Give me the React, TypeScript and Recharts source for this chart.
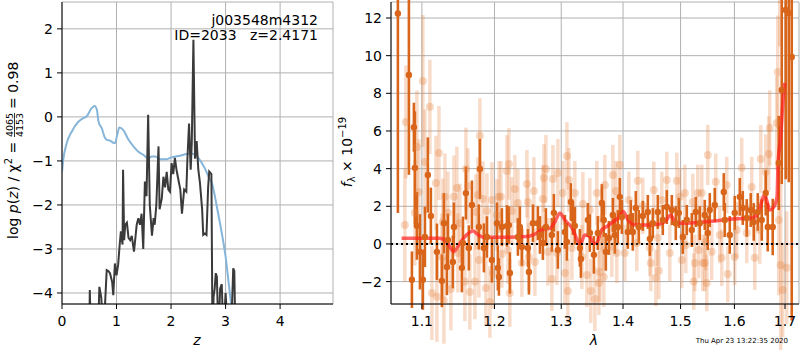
import React from "react";
import {
  LineChart,
  Line,
  ComposedChart,
  Scatter,
  ErrorBar,
  XAxis,
  YAxis,
  CartesianGrid,
  ReferenceLine,
} from "recharts";

const FONT = "DejaVu Sans";

// ---- left panel: log p(z) ----
const zTicks = [0, 1, 2, 3, 4];
const logpTicks = [-4, -3, -2, -1, 0, 1, 2];

const priorZ = [0, 0.02, 0.086, 0.18, 0.3, 0.39, 0.45, 0.545, 0.6, 0.64, 0.67, 0.73, 0.79, 0.82, 0.88, 0.97, 1.02, 1.05, 1.125, 1.22, 1.31, 1.4, 1.49, 1.58, 1.65, 1.71, 1.8, 1.92, 2.01, 2.13, 2.23, 2.35, 2.44, 2.53, 2.62, 2.7, 2.75, 2.84, 2.93, 3.0, 3.05, 3.1, 3.16];
const priorLogp = [-1.25, -1.0, -0.6, -0.33, -0.11, -0.03, 0.01, 0.2, 0.25, 0.16, -0.11, -0.26, -0.48, -0.52, -0.54, -0.6, -0.37, -0.24, -0.3, -0.52, -0.67, -0.79, -0.86, -0.94, -0.9, -0.9, -0.96, -0.96, -0.92, -0.89, -0.86, -0.83, -0.86, -0.98, -1.17, -1.39, -1.51, -2.04, -2.64, -3.17, -3.7, -4.23, -4.8];

const chiZ = [0.5, 0.51, 0.53, 0.66, 0.685, 0.72, 0.76, 0.82, 0.85, 0.88, 0.92, 0.94, 0.97, 1.0, 1.03, 1.06, 1.08, 1.11, 1.12, 1.14, 1.16, 1.19, 1.22, 1.25, 1.28, 1.32, 1.35, 1.37, 1.4, 1.43, 1.46, 1.49, 1.52, 1.55, 1.58, 1.61, 1.65, 1.68, 1.7, 1.73, 1.77, 1.79, 1.83, 1.86, 1.89, 1.92, 1.95, 1.98, 2.01, 2.04, 2.07, 2.1, 2.13, 2.17, 2.2, 2.24, 2.28, 2.3, 2.33, 2.36, 2.38, 2.41, 2.44, 2.47, 2.5, 2.53, 2.57, 2.59, 2.62, 2.65, 2.68, 2.7, 2.74, 2.76, 2.78, 2.8, 2.82, 2.84, 2.87, 2.9, 2.93, 2.96, 3.0, 3.05, 3.1, 3.14, 3.16, 3.18];
const chiLogp = [-5, -3.93, -5, -5, -3.86, -4.1, -5, -3.48, -3.5, -3.55, -3.75, -4.05, -3.33, -3.6, -3.35, -2.87, -2.6, -2.9, -1.2, -2.8, -2.45, -2.4, -2.75, -2.8, -2.7, -3.06, -2.7, -2.45, -2.3, -2.45, -2.2, -3.0, -1.47, -1.8, 0.05, -2.0, -2.7, -2.3, -2.45, -2.0, -0.67, -2.1, -1.85, -1.36, -1.6, -1.25, -1.65, -1.7, -1.05, -1.3, -0.93, -1.2, -1.4, -1.65, -2.2, -1.65, -1.7, -0.95, -0.15, -1.2, -0.6, 1.75, -0.95, -0.55, -1.2, -1.5, -2.1, -2.68, -2.65, -2.68, -1.6, -1.24, -1.3, -5, -4.08, -3.9, -3.55, -3.63, -5, -3.9, -3.8, -5, -4.0, -5, -5, -3.44, -3.5, -5];

// ---- right panel: spectrum ----
const lamTicks = [1.1, 1.2, 1.3, 1.4, 1.5, 1.6, 1.7];
const fluxTicks = [-2, 0, 2, 4, 6, 8, 10, 12];

const darkLam = [1.0688, 1.083, 1.0869, 1.0895, 1.0908, 1.0934, 1.0974, 1.1013, 1.104, 1.1079, 1.1119, 1.12, 1.1267, 1.1294, 1.1335, 1.1348, 1.1416, 1.143, 1.154, 1.1555, 1.1596, 1.1637, 1.168, 1.1778, 1.1792, 1.1849, 1.1892, 1.1963, 1.2035, 1.2049, 1.2064, 1.2107, 1.218, 1.2209, 1.2224, 1.2342, 1.2371, 1.2401, 1.2491, 1.2506, 1.2566, 1.2641, 1.2672, 1.2717, 1.2763, 1.2855, 1.2886, 1.2948, 1.3057, 1.3089, 1.3151, 1.3183, 1.3214, 1.3294, 1.331, 1.3422, 1.3454, 1.3519, 1.3583, 1.3649, 1.368, 1.3714, 1.3764, 1.383, 1.3863, 1.3913, 1.3946, 1.398, 1.4081, 1.4131, 1.4165, 1.4216, 1.4267, 1.4336, 1.4422, 1.4457, 1.4509, 1.4596, 1.4683, 1.4754, 1.4843, 1.4914, 1.4968, 1.504, 1.5112, 1.5203, 1.5276, 1.5349, 1.5441, 1.5497, 1.5534, 1.5627, 1.5797, 1.5816, 1.5911, 1.6006, 1.6103, 1.6161, 1.6238, 1.6316, 1.6375, 1.6454, 1.6533, 1.6612, 1.6652, 1.6752, 1.6873, 1.6934, 1.7015, 1.7077, 1.7138];
const darkFlux = [12.24, 8.97, -1.9, 6.2, 4.04, 0.96, -0.42, -1.9, 0.37, 3.66, 1.49, -0.42, -1.96, 1.1, -1.22, 0.21, -0.96, 0.9, -1.27, 0.05, 2.7, -0.21, 2.07, 0.9, 3.98, -0.21, 0.37, -0.85, 1.1, -1.27, -1.75, 0.9, 0.96, 1.0, -1.54, 0.37, 0.9, -0.16, -0.21, -1.49, 1.1, 1.1, 0.48, 0.05, 0.9, 0.48, 1.65, -0.32, 0.64, 0.11, 2.23, 1.38, 0.96, -0.21, -0.8, 1.27, 0.58, -0.58, 0.58, 2.18, 1.27, -0.42, 0.32, 1.54, 0.48, 0.9, 2.5, 1.43, 0.64, 1.43, 0.64, 1.91, 0.9, 1.49, 1.7, 0.27, 1.1, 1.7, 1.27, 1.96, 1.8, 1.1, 1.65, 0.37, 1.27, 0.74, 1.7, 1.1, 1.54, 0.58, 1.8, 2.07, 2.76, 1.27, 0.48, 1.65, 2.5, 1.91, 1.38, 1.8, 1.17, 1.7, 1.27, 2.71, 0.9, 0.9, 4.3, 8.18, 12.43, 12.27, 9.93];
const darkErr = [10.6, 5.3, 1.5, 1.3, 3.0, 1.8, 2.0, 1.6, 1.6, 2.0, 1.5, 1.5, 1.4, 1.6, 1.5, 1.4, 1.4, 1.3, 1.3, 1.4, 1.4, 1.2, 1.3, 1.2, 1.6, 1.3, 1.1, 1.2, 1.1, 1.2, 1.0, 1.0, 1.1, 1.0, 1.1, 1.0, 1.1, 1.0, 1.0, 1.2, 1.0, 0.9, 1.0, 0.9, 1.0, 0.9, 1.0, 1.0, 0.9, 1.0, 1.0, 0.9, 1.0, 1.0, 1.0, 0.9, 1.0, 1.0, 0.9, 1.0, 0.9, 1.0, 0.9, 0.9, 1.0, 0.9, 1.0, 0.9, 0.9, 0.9, 1.0, 0.9, 0.9, 0.8, 0.9, 0.9, 0.8, 0.9, 0.8, 0.9, 0.8, 0.9, 0.8, 0.9, 0.8, 0.9, 0.8, 0.9, 0.8, 0.9, 0.9, 0.9, 1.0, 0.9, 1.0, 0.9, 1.0, 0.9, 1.0, 0.9, 1.0, 1.0, 1.1, 1.2, 1.3, 1.5, 2.5, 5.0, 9.0, 9.0, 14.0];

const lightLam = [1.0778, 1.0791, 1.0908, 1.0934, 1.096, 1.1013, 1.104, 1.1106, 1.1133, 1.1186, 1.12, 1.1227, 1.1267, 1.128, 1.1294, 1.1308, 1.1348, 1.1389, 1.143, 1.1471, 1.1485, 1.1513, 1.1582, 1.1596, 1.1624, 1.1651, 1.1722, 1.1736, 1.1764, 1.1778, 1.1792, 1.1835, 1.1877, 1.1892, 1.1934, 1.1963, 1.1977, 1.2035, 1.2064, 1.2093, 1.2107, 1.218, 1.2195, 1.2209, 1.2223, 1.2253, 1.2297, 1.2342, 1.2401, 1.2476, 1.2491, 1.2505, 1.2581, 1.2596, 1.2717, 1.2733, 1.2763, 1.2794, 1.2855, 1.2871, 1.2933, 1.2948, 1.3026, 1.3057, 1.3089, 1.3104, 1.312, 1.3167, 1.3214, 1.3326, 1.3342, 1.3406, 1.3454, 1.3469, 1.3535, 1.3567, 1.36, 1.3616, 1.3649, 1.3665, 1.3681, 1.3698, 1.3813, 1.383, 1.388, 1.3896, 1.3946, 1.403, 1.4098, 1.4233, 1.425, 1.4336, 1.4457, 1.4474, 1.4526, 1.4561, 1.4596, 1.4614, 1.4666, 1.4754, 1.4807, 1.4932, 1.4986, 1.5022, 1.5076, 1.5094, 1.5221, 1.5239, 1.5258, 1.5312, 1.533, 1.5386, 1.5404, 1.5441, 1.546, 1.5478, 1.5497, 1.5571, 1.5646, 1.5721, 1.5759, 1.5854, 1.5873, 1.6006, 1.6045, 1.6141, 1.6238, 1.6336, 1.6395, 1.6493, 1.6513, 1.6612, 1.6672, 1.6692, 1.6833, 1.6853, 1.6873, 1.6893, 1.6913, 1.6954, 1.7036];
const lightFlux = [1.0, 6.48, 1.65, 5.15, 2.76, 8.66, 4.35, 7.28, -2.6, 3.24, -2.8, 4.83, -0.69, 1.17, -3.0, 2.5, 1.65, -2.39, 2.5, 2.97, -0.48, 1.1, -2.0, 3.98, 3.08, -2.55, -2.0, 1.7, 2.6, -0.85, 5.74, 2.39, -2.34, 1.75, -3.08, 2.34, -1.54, 1.54, 2.5, 2.5, -0.53, 3.88, -0.32, 4.25, -2.6, 1.75, 2.92, 2.18, -1.01, 3.19, 2.23, -0.69, 2.81, -0.96, 2.39, 3.5, 3.98, -0.42, -1.86, 3.45, -0.48, 3.77, 2.71, -1.54, 4.67, -2.5, 3.4, -0.21, 2.71, -0.69, 2.12, -1.65, 1.8, -2.5, -2.92, 2.71, -2.07, -1.49, 1.33, 0.21, -1.75, 3.13, -0.16, 3.66, 2.81, -0.48, 4.2, -0.48, 2.34, 0.05, 3.35, 2.02, -0.21, -1.01, 2.87, -1.8, 0.32, -1.43, 2.34, 3.4, -0.48, 3.35, 2.5, -0.85, 2.71, -0.05, 2.23, -2.0, -1.01, 2.71, -0.32, 2.71, -1.01, -1.01, 0.11, -2.07, 4.73, -0.42, 3.3, 0.48, -0.74, 3.13, -1.6, -0.69, 0.74, 4.04, 0.58, 3.03, -0.74, 0.74, 4.51, 3.82, 4.78, 6.16, 6.43, 9.13, 1.27, 13.0, -1.12, -2.44, -1.27];
const lightErr = [3.0, 3.0, 2.8, 3.0, 2.8, 3.5, 2.8, 2.5, 2.5, 2.5, 2.4, 2.5, 2.3, 2.3, 2.3, 2.3, 2.2, 2.2, 2.2, 2.2, 2.1, 2.1, 2.1, 2.2, 2.0, 2.0, 2.0, 2.0, 2.0, 2.0, 2.0, 2.0, 2.0, 2.0, 1.9, 2.0, 1.9, 1.9, 1.9, 1.9, 1.8, 1.9, 1.8, 1.9, 1.8, 1.8, 1.8, 1.8, 1.8, 1.8, 1.8, 1.8, 1.8, 1.8, 1.8, 1.8, 1.8, 1.8, 1.7, 1.8, 1.7, 1.8, 1.7, 1.7, 1.8, 1.7, 1.7, 1.7, 1.7, 1.7, 1.7, 1.7, 1.7, 1.7, 1.7, 1.7, 1.7, 1.6, 1.7, 1.6, 1.6, 1.6, 1.6, 1.6, 1.6, 1.6, 1.6, 1.5, 1.5, 1.5, 1.6, 1.5, 1.5, 1.5, 1.5, 1.5, 1.5, 1.5, 1.5, 1.5, 1.5, 1.5, 1.5, 1.5, 1.5, 1.5, 1.5, 1.5, 1.5, 1.5, 1.5, 1.5, 1.5, 1.5, 1.5, 1.5, 1.6, 1.5, 1.5, 1.5, 1.5, 1.5, 1.5, 1.5, 1.5, 1.6, 1.6, 1.6, 1.7, 1.8, 1.8, 2.0, 2.0, 2.0, 2.5, 3.0, 4.0, 2.5, 5.0, 2.5, 3.0, 3.0];

const modelLam = [1.0735, 1.124, 1.1331, 1.143, 1.1513, 1.1606, 1.1698, 1.1768, 1.1839, 1.2176, 1.2471, 1.2622, 1.2722, 1.2825, 1.2902, 1.2979, 1.3057, 1.3188, 1.3251, 1.3294, 1.3374, 1.3454, 1.3508, 1.3563, 1.3644, 1.3726, 1.3835, 1.3918, 1.4002, 1.4086, 1.42, 1.44, 1.4631, 1.4749, 1.482, 1.4897, 1.4956, 1.5473, 1.5974, 1.633, 1.646, 1.6592, 1.6638, 1.6692, 1.6758, 1.6839, 1.6859, 1.6908, 1.6961, 1.6996];
const modelFlux = [0.3, 0.3, 0.12, -0.41, 0.04, 0.48, 0.69, 0.48, 0.36, 0.36, 0.39, 0.57, 0.78, 0.83, 1.18, 1.63, 1.27, 0.74, 0.21, -0.05, 0.48, 0.39, 0.04, 0.04, 0.74, 0.92, 1.18, 1.36, 1.72, 1.27, 1.01, 1.01, 1.06, 1.27, 1.54, 1.18, 1.1, 1.18, 1.33, 1.36, 1.63, 2.6, 2.25, 1.8, 1.9, 2.51, 4.29, 5.52, 7.65, 8.55];

const minus = (v: number) => String(v).replace("-", "\u2212");

const tickStyle = { fill: "#000", fontSize: 14, fontFamily: FONT };
const black = { stroke: "#000", strokeWidth: 1 };

const DARK = "#d9651a";

const LeftYLabel = () => (
  <g transform="translate(18,151) rotate(-90)" fontFamily={FONT} fill="#000" fontSize={14}>
    <text x={-88} y={0}>
      log <tspan fontStyle="italic">p</tspan>(<tspan fontStyle="italic">z</tspan>) / χ
      <tspan fontSize={10} dy={-6}>2</tspan>
      <tspan dy={6}> =</tspan>
    </text>
    <text x={26} y={-5} fontSize={9.5} textAnchor="middle">4065</text>
    <line x1={14} x2={38} y1={-3.5} y2={-3.5} stroke="#000" strokeWidth={0.8} />
    <text x={26} y={4.5} fontSize={9.5} textAnchor="middle">4153</text>
    <text x={42} y={0}>= 0.98</text>
  </g>
);

const LeftXLabel = () => (
  <g fontFamily={FONT} fill="#000" fontSize={14}>
    <text x={197} y={345} fontStyle="italic" textAnchor="middle">z</text>
    <text x={318} y={25} textAnchor="end">j003548m4312</text>
    <text x={318} y={40} textAnchor="end" style={{ whiteSpace: "pre" }}>ID=2033   z=2.4171</text>
  </g>
);

// right chart is offset 10px to the left of the panel so the rotated label has room
const RightYLabel = () => (
  <g transform="translate(22,152) rotate(-90)" fontFamily={FONT} fill="#000" fontSize={14}>
    <text x={0} y={0} textAnchor="middle">
      <tspan fontStyle="italic">f</tspan>
      <tspan fontSize={10} dy={3}>λ</tspan>
      <tspan dy={-3}> × 10</tspan>
      <tspan fontSize={10} dy={-6}>−19</tspan>
    </text>
  </g>
);

const RightXLabel = () => (
  <g fontFamily={FONT} fill="#000">
    <text x={264} y={345} fontSize={14} fontStyle="italic" textAnchor="middle">λ</text>
    <text x={458} y={343} fontSize={7} textAnchor="end">Thu Apr 23 13:22:35 2020</text>
  </g>
);

export default function App() {
  const prior = priorZ.map((x, i) => ({ x, y: priorLogp[i] }));
  const chi = chiZ.map((x, i) => ({ x, y: chiLogp[i] }));
  const dark = darkLam.map((x, i) => ({ x, y: darkFlux[i], e: darkErr[i] }));
  const light = lightLam.map((x, i) => ({ x, y: lightFlux[i], e: lightErr[i] }));
  const model = modelLam.map((x, i) => ({ x, y: modelFlux[i] }));

  const zDom: [number, number] = [0, 4.97];
  const pDom: [number, number] = [-4.25, 2.61];
  const lDom: [number, number] = [1.06, 1.7288];
  const fDom: [number, number] = [-3.19, 12.85];

  return (
    <div style={{ position: "absolute", left: 0, top: 0, width: 800, height: 350, background: "#fff" }}>
      <div style={{ position: "absolute", left: 0, top: 0 }}>
        <LineChart width={340} height={350} margin={{ top: 2, right: 7, bottom: 0, left: 0 }}>
          <CartesianGrid stroke="#b0b0b0" strokeWidth={1} />
          <XAxis
            dataKey="x"
            type="number"
            domain={zDom}
            ticks={zTicks}
            allowDataOverflow
            height={46}
            tick={tickStyle}
            tickLine={black}
            axisLine={black}
            tickSize={5}
            tickMargin={7}
            label={<LeftXLabel />}
          />
          <XAxis xAxisId="top" orientation="top" type="number" domain={zDom} height={0} tick={false} tickLine={false} axisLine={black} />
          <YAxis
            type="number"
            domain={pDom}
            ticks={logpTicks}
            allowDataOverflow
            width={62}
            tick={tickStyle}
            tickLine={black}
            axisLine={black}
            tickSize={5}
            tickMargin={4}
            tickFormatter={minus}
            label={<LeftYLabel />}
          />
          <YAxis yAxisId="right" orientation="right" type="number" domain={pDom} width={0} tick={false} tickLine={false} axisLine={black} />
          <Line data={prior} dataKey="y" type="monotone" stroke="#86b5da" strokeWidth={2} dot={false} isAnimationActive={false} />
          <Line data={chi} dataKey="y" type="linear" stroke="#3a3a3a" strokeWidth={2} dot={false} isAnimationActive={false} />
        </LineChart>
      </div>
      <div style={{ position: "absolute", left: 330, top: 0 }}>
        <ComposedChart width={470} height={350} margin={{ top: 2, right: 1, bottom: 0, left: 0 }}>
          <CartesianGrid stroke="#b0b0b0" strokeWidth={1} />
          <XAxis
            dataKey="x"
            type="number"
            scale="log"
            domain={lDom}
            ticks={lamTicks}
            allowDataOverflow
            height={46}
            tick={tickStyle}
            tickLine={black}
            axisLine={black}
            tickSize={5}
            tickMargin={7}
            label={<RightXLabel />}
          />
          <XAxis xAxisId="top" orientation="top" type="number" scale="log" domain={lDom} height={0} tick={false} tickLine={false} axisLine={black} />
          <YAxis
            type="number"
            domain={fDom}
            ticks={fluxTicks}
            allowDataOverflow
            width={61}
            tick={tickStyle}
            tickLine={black}
            axisLine={black}
            tickSize={5}
            tickMargin={4}
            tickFormatter={minus}
            label={<RightYLabel />}
          />
          <YAxis yAxisId="right" orientation="right" type="number" domain={fDom} width={0} tick={false} tickLine={false} axisLine={black} />
          <Scatter
            data={light}
            dataKey="y"
            isAnimationActive={false}
            shape={(p: any) => <circle cx={p.cx} cy={p.cy} r={4} fill="rgba(230,130,60,0.3)" />}
          >
            <ErrorBar dataKey="e" direction="y" width={0} stroke="rgba(230,130,60,0.28)" strokeWidth={3.5} isAnimationActive={false} />
          </Scatter>
          <Scatter
            data={dark}
            dataKey="y"
            isAnimationActive={false}
            shape={(p: any) => <circle cx={p.cx} cy={p.cy} r={3.2} fill={DARK} />}
          >
            <ErrorBar dataKey="e" direction="y" width={0} stroke={DARK} strokeWidth={2.6} isAnimationActive={false} />
          </Scatter>
          <Line data={model} dataKey="y" type="monotone" stroke="#ff2020" strokeOpacity={0.7} strokeWidth={3.5} dot={false} isAnimationActive={false} />
          <ReferenceLine y={0} stroke="#000" strokeWidth={2} strokeDasharray="2 3" />
        </ComposedChart>
      </div>
    </div>
  );
}
